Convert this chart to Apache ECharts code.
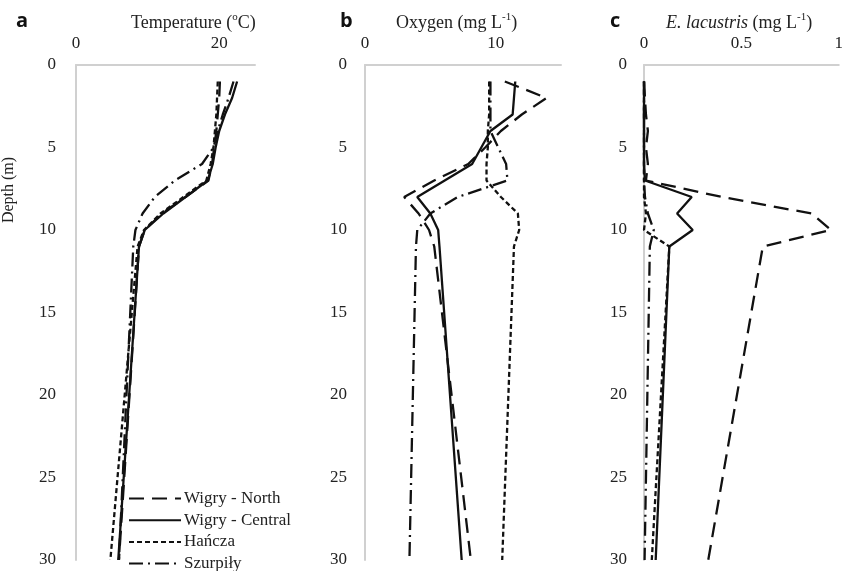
<!DOCTYPE html>
<html>
<head>
<meta charset="utf-8">
<script src="https://cdn.jsdelivr.net/npm/echarts@6/dist/echarts.min.js"></script>
<style>html,body{margin:0;padding:0;background:#fff}#c{width:846px;height:571px}</style>
</head>
<body>
<div id="c"></div>
<script>
// Depths (m) of the profiles
const depths = [1, 2, 3, 4, 5, 6, 7, 8, 9, 10, 11, 30];
const seriesNames = ['Wigry - North', 'Wigry - Central', 'Hańcza', 'Szurpiły'];

// a: Temperature (°C)
const tempNorth   = [20.1, 20.0, 19.8, 19.6, 19.3, 19.0, 18.5, 15.3, 12.0, 9.6, 8.8, 6.0];
const tempCentral = [22.5, 21.8, 20.8, 20.0, 19.5, 19.1, 18.4, 15.3, 12.2, 9.6, 8.8, 5.9];
const tempHancza  = [19.8, 19.7, 19.6, 19.4, 19.2, 18.8, 18.2, 15.0, 11.8, 9.5, 8.6, 4.8];
const tempSzurp   = [22.0, 21.3, 20.5, 19.8, 19.2, 17.6, 13.8, 11.0, 9.3, 8.3, 8.0, 6.0];

// b: Oxygen (mg L-1)
const oxyNorth   = [10.7, 13.9, 12.0, 10.4, 9.2, 7.9, 5.3, 3.0, 4.1, 4.9, 5.3, 8.1];
const oxyCentral = [11.5, 11.4, 11.3, 9.6, 8.9, 8.2, 6.1, 4.0, 5.0, 5.6, 5.7, 7.4];
const oxyHancza  = [9.5, 9.5, 9.5, 9.4, 9.4, 9.3, 9.3, 10.4, 11.7, 11.8, 11.4, 10.5];
const oxySzurp   = [9.6, 9.6, 9.6, 9.6, 10.2, 10.8, 10.9, 7.1, 5.0, 4.0, 3.9, 3.4];

// c: E. lacustris (mg L-1)
const elNorth   = [0.0, 0.005, 0.01, 0.02, 0.01, 0.02, 0.01, 0.40, 0.86, 0.96, 0.61, 0.33];
const elCentral = [0.0, 0.0, 0.0, 0.0, 0.0, 0.0, 0.005, 0.245, 0.17, 0.25, 0.13, 0.06];
const elHancza  = [0.0, 0.0, 0.0, 0.0, 0.0, 0.0, 0.0, 0.0, 0.01, 0.0, 0.13, 0.04];
const elSzurp   = [0.0, 0.0, 0.0, 0.0, 0.0, 0.0, 0.0, 0.005, 0.02, 0.05, 0.03, 0.003];

// axis ranges / ticks
const xMax = [25, 15, 1];
const xInterval = [20, 10, 0.5];
const depthMax = 30, depthInterval = 5;

const dashStyles = [[15, 8], null, [5, 3], [14, 5, 2, 5]];
const lineTypes = dashStyles.map(d => d === null ? 'solid' : d);

const FONT = '"Liberation Serif", "Times New Roman", serif';
const gray = '#d0d0d0';

const panels = [
  [tempNorth, tempCentral, tempHancza, tempSzurp],
  [oxyNorth, oxyCentral, oxyHancza, oxySzurp],
  [elNorth, elCentral, elHancza, elSzurp]
];

const grids = [
  {left: 76, top: 65, width: 179, height: 495},
  {left: 365, top: 65, width: 196, height: 495},
  {left: 644, top: 65, width: 196, height: 495}
];
const yMargins = [20, 18, 17];

const xAxes = grids.map((g, i) => ({
  type: 'value', gridIndex: i, position: 'top', min: 0, max: xMax[i], interval: xInterval[i],
  axisLine: {show: true, lineStyle: {color: gray, width: 2}},
  axisTick: {show: false}, splitLine: {show: false},
  axisLabel: {fontFamily: FONT, fontSize: 17, color: '#222', margin: 13, showMaxLabel: i === 2,
    formatter: v => String(v)}
}));
const yAxes = grids.map((g, i) => ({
  type: 'value', gridIndex: i, inverse: true, min: 0, max: depthMax, interval: depthInterval,
  axisLine: {show: true, lineStyle: {color: gray, width: 2}},
  axisTick: {show: false}, splitLine: {show: false},
  axisLabel: {fontFamily: FONT, fontSize: 17, color: '#222', margin: yMargins[i]}
}));

const series = [];
panels.forEach((vals, pi) => {
  vals.forEach((arr, si) => {
    series.push({
      name: seriesNames[si], type: 'line', xAxisIndex: pi, yAxisIndex: pi,
      symbol: 'none', animation: false,
      lineStyle: {color: '#111', width: 2.3, type: lineTypes[si]},
      itemStyle: {color: '#111'},
      data: arr.map((v, k) => [v, depths[k]])
    });
  });
});

const titleRich = {
  t: {fontFamily: FONT, fontSize: 18, fontWeight: 'normal', color: '#222', lineHeight: 22},
  i: {fontFamily: FONT, fontSize: 18, fontWeight: 'normal', color: '#222', fontStyle: 'italic', lineHeight: 22},
  s: {fontFamily: FONT, fontSize: 11, fontWeight: 'normal', color: '#222', verticalAlign: 'top', lineHeight: 22, padding: [0, 0, 6, 0]}
};
const letterStyle = {fontFamily: '"Open Sans", "Liberation Sans", sans-serif', fontSize: 20, fontWeight: 'bold', color: '#111'};

const legends = seriesNames.map((name, i) => ({
  data: [name], orient: 'vertical', left: 128, top: 490 + i * 21.7, padding: 0,
  itemWidth: 52, itemHeight: 14, itemGap: 0,
  itemStyle: {opacity: 0},
  textStyle: {fontFamily: FONT, fontSize: 17, color: '#222', padding: [0, 0, 0, -2]},
  selectedMode: false
}));

const option = {
  backgroundColor: '#fff',
  animation: false,
  title: [
    {text: '{t|Temperature (}{s|o}{t|C)}', left: 126, top: 7, textStyle: {fontWeight: 'normal', rich: titleRich}},
    {text: '{t|Oxygen (mg L}{s|-1}{t|)}', left: 391, top: 7, textStyle: {fontWeight: 'normal', rich: titleRich}},
    {text: '{i|E. lacustris}{t| (mg L}{s|-1}{t|)}', left: 661, top: 7, textStyle: {fontWeight: 'normal', rich: titleRich}},
    {text: 'a', left: 11, top: 6, textStyle: letterStyle},
    {text: 'b', left: 335, top: 6, textStyle: letterStyle},
    {text: 'c', left: 605, top: 6, textStyle: letterStyle}
  ],
  graphic: [{
    type: 'text', x: 1, y: 190, rotation: Math.PI / 2, origin: [0, 0],
    style: {text: 'Depth (m)', font: '16px ' + FONT, fill: '#222', textAlign: 'center', textVerticalAlign: 'top'}
  }],
  legend: legends,
  grid: grids,
  xAxis: xAxes,
  yAxis: yAxes,
  series: series
};

const chart = echarts.init(document.getElementById('c'), null, {renderer: 'canvas'});
chart.setOption(option);
</script>
</body>
</html>
